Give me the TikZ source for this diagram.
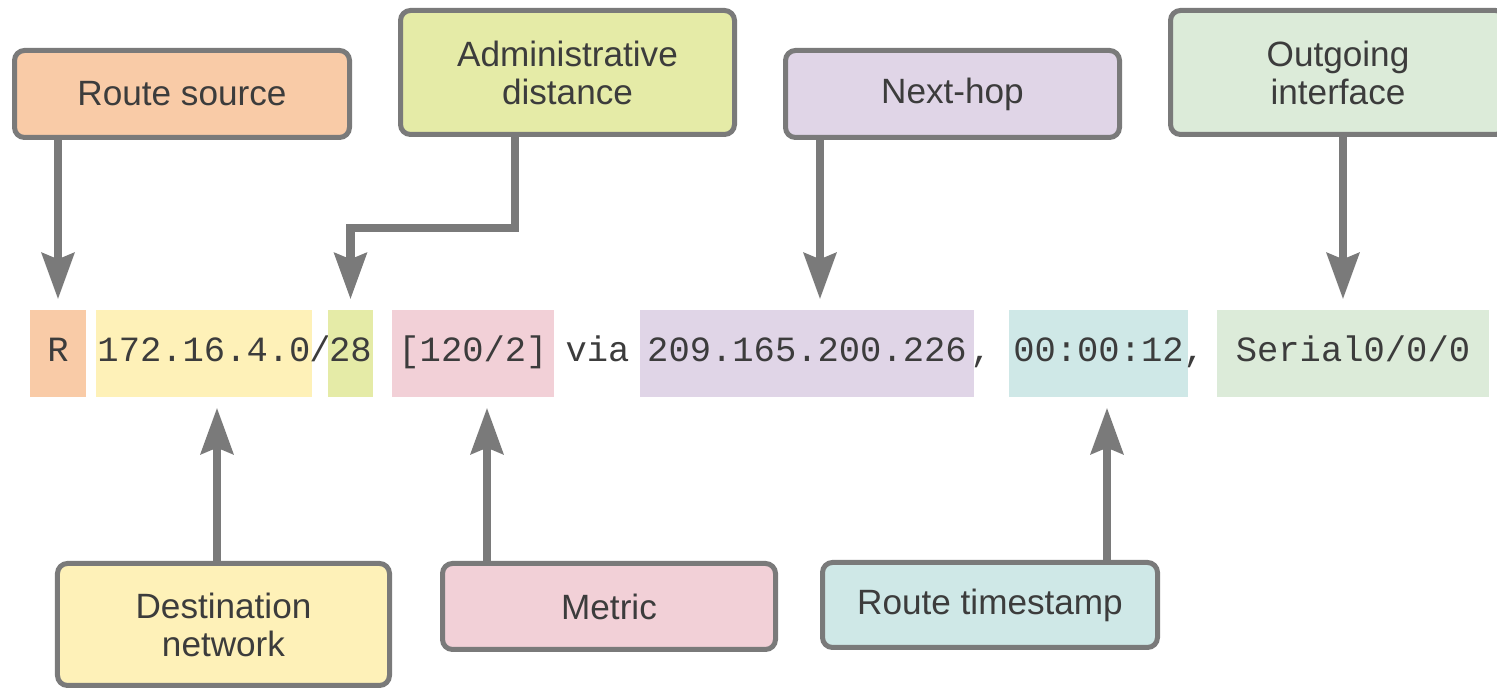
\documentclass[tikz,border=0pt]{standalone}
\usepackage{fontspec}
\setmainfont{Liberation Sans}
\setmonofont{Liberation Mono}
\usetikzlibrary{arrows.meta}

\definecolor{edgegray}{HTML}{7A7A7A}
\definecolor{textgray}{HTML}{3C3C3C}
\definecolor{srccol}{HTML}{F9CBA7}
\definecolor{netcol}{HTML}{FEF1B8}
\definecolor{adcol}{HTML}{E5EBA7}
\definecolor{metcol}{HTML}{F2D0D7}
\definecolor{hopcol}{HTML}{E0D5E7}
\definecolor{stampcol}{HTML}{CFE8E7}
\definecolor{ifcol}{HTML}{DCEBD9}

\begin{document}
\begin{tikzpicture}[
  namebox/.style={draw=edgegray, line width=0.05cm, rounded corners=0.1cm, align=center,
    text=textgray, inner sep=0pt, font=\fontsize{10}{10.8}\selectfont},
  fieldbox/.style={minimum height=0.87cm, inner sep=0pt, text height=0.25cm, text depth=0.08cm,
    text=textgray, font=\ttfamily\fontsize{10.1}{12}\selectfont},
  pointer/.style={draw=edgegray, line width=0.085cm, shorten >=0.1cm,
    -{Stealth[length=0.46cm,width=0.32cm,inset=0.06cm]}}
]
\useasboundingbox (0,0) rectangle (14.97,-6.88);

% labels above
\node[namebox, fill=srccol, minimum width=3.35cm, minimum height=0.87cm] (rsrc) at (1.82,-0.94) {Route source};
\node[namebox, fill=adcol, minimum width=3.34cm, minimum height=1.24cm] (admin) at (5.675,-0.725) {Administrative\\distance};
\node[namebox, fill=hopcol, minimum width=3.34cm, minimum height=0.87cm] (nhop) at (9.525,-0.94) {Next-hop};
\node[namebox, fill=ifcol, minimum width=3.35cm, minimum height=1.24cm] (outif) at (13.38,-0.725) {Outgoing\\interface};

% the route entry
\node[fieldbox, fill=srccol, minimum width=0.56cm] (rchip) at (0.58,-3.535) {R};
\node[fieldbox, fill=netcol, minimum width=2.16cm] (netchip) at (2.04,-3.535) {172.16.4.0};
\node[fieldbox] (slash) at (3.20,-3.535) {/};
\node[fieldbox, fill=adcol, minimum width=0.45cm] (maskchip) at (3.505,-3.535) {28};
\node[fieldbox, fill=metcol, minimum width=1.62cm] (metchip) at (4.73,-3.535) {[120/2]};
\node[fieldbox] (via) at (5.975,-3.535) {via};
\node[fieldbox, fill=hopcol, minimum width=3.34cm] (hopaddr) at (8.07,-3.535) {209.165.200.226};
\node[fieldbox] (comma1) at (9.81,-3.535) {,};
\node[fieldbox, fill=stampcol, minimum width=1.79cm] (stampchip) at (10.985,-3.535) {00:00:12};
\node[fieldbox] (comma2) at (11.94,-3.535) {,};
\node[fieldbox, fill=ifcol, minimum width=2.72cm] (ifchip) at (13.53,-3.535) {Serial0/0/0};

% labels below
\node[namebox, fill=netcol, minimum width=3.32cm, minimum height=1.22cm] (dest) at (2.235,-6.245) {Destination\\network};
\node[namebox, fill=metcol, minimum width=3.33cm, minimum height=0.86cm] (metric) at (6.09,-6.065) {Metric};
\node[namebox, fill=stampcol, minimum width=3.35cm, minimum height=0.85cm] (stamp) at (9.9,-6.05) {Route timestamp};

% pointers
\coordinate (adbend) at (5.15,-2.28);
\draw[pointer] (rsrc.south -| rchip.north) -- (rchip.north);
\draw[pointer] (admin.south -| adbend) -- (adbend) -| (maskchip.north);
\draw[pointer] (nhop.south -| 8.2,0) -- (hopaddr.north -| 8.2,0);
\draw[pointer] (outif.south -| 13.43,0) -- (ifchip.north -| 13.43,0);
\draw[pointer] (dest.north -| 2.17,0) -- (netchip.south -| 2.17,0);
\draw[pointer] (metric.north -| 4.87,0) -- (metchip.south -| 4.87,0);
\draw[pointer] (stamp.north -| 11.07,0) -- (stampchip.south -| 11.07,0);
\end{tikzpicture}
\end{document}
